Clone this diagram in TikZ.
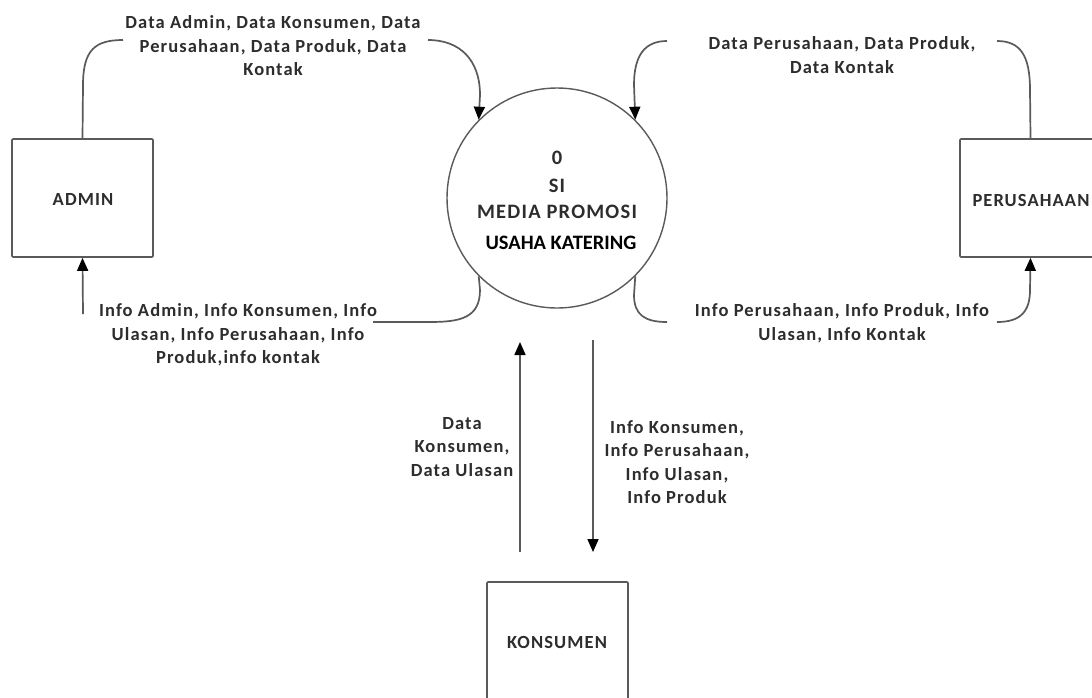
\documentclass[tikz,border=0pt]{standalone}
\usepackage{fontspec}
\setmainfont{Carlito}[LetterSpace=6]
\newfontfamily\plainc{Carlito}
\usetikzlibrary{arrows.meta}
\definecolor{linegray}{RGB}{90,90,90}
\definecolor{textgray}{RGB}{45,45,45}
\begin{document}
\begin{tikzpicture}[x=1pt,y=-1pt,
  every node/.style={font=\fontsize{18.5}{23.5}\selectfont\bfseries, text=textgray},
  ptext/.style={font=\fontsize{20.5}{23}\selectfont\bfseries},
  entity/.style={draw=linegray, line width=1.7pt, minimum width=141pt, minimum height=118pt, inner sep=0pt, rounded corners=1pt},
  proc/.style={draw=linegray, line width=1.4pt, circle, minimum size=220pt, inner sep=0pt},
  flow/.style={draw=linegray, line width=1.7pt},
  arr/.style={flow, -{Triangle[length=13pt,width=11pt,color=black]}},
  lbl/.style={align=center, inner sep=0pt}]
\useasboundingbox (0,0) rectangle (1092,697);
\clip (0,0) rectangle (1092,697);
\fill[white] (0,0) rectangle (1092,697);

% nodes
\node[proc] (p) at (557,198) {};
\node[ptext] (p0) at (557,158) {0};
\node[ptext] (p1) at (557,186) {SI};
\node[ptext] (p2) at (557,212) {MEDIA PROMOSI};
\node[font=\fontsize{20.5}{22}\plainc\bfseries, text=black] (p3) at (561,243) {USAHA KATERING};

\node[entity] (admin) at (82.5,198) {};
\node (adminl) at (83,199) {ADMIN};
\node[entity] (perus) at (1030.5,198) {};
\node (perusl) at (1031,200) {PERUSAHAAN};
\node[entity] (kons) at (557.5,641) {};
\node (konsl) at (557,642) {KONSUMEN};

% labels
\node[lbl] (l1) at (273,46) {Data Admin, Data Konsumen, Data\\Perusahaan, Data Produk, Data\\Kontak};
\node[lbl] (l2) at (842,55) {Data Perusahaan, Data Produk,\\Data Kontak};
\node[lbl] (l3) at (238,335) {Info Admin, Info Konsumen, Info\\Ulasan, Info Perusahaan, Info\\Produk,info kontak};
\node[lbl] (l4) at (842,323.5) {Info Perusahaan, Info Produk, Info\\Ulasan, Info Kontak};
\node[lbl] (l5) at (462,447) {Data\\Konsumen,\\Data Ulasan};
\node[lbl] (l6) at (677,462) {Info Konsumen,\\Info Perusahaan,\\Info Ulasan,\\Info Produk};

% coordinates
\coordinate (a1) at (123,40);
\coordinate (a2) at (428,40);
\coordinate (b1) at (667,41);
\coordinate (b2) at (997,41);
\coordinate (c1) at (373,322);
\coordinate (c2) at (83,314);
\coordinate (d1) at (667,322);
\coordinate (d2) at (997,322);
\coordinate (e1) at (520,552);
\coordinate (e2) at (520,342);
\coordinate (f1) at (593,340);
\coordinate (f2) at (593,552);

% flows
\draw[flow] (admin.north) -- (83,85) .. controls (83,50) and (95,40) .. (a1);
\draw[arr] (a2) .. controls (460,40) and (480,60) .. (480,95) -- (p.135);
\draw[arr] (b1) .. controls (645,41) and (634,55) .. (634,85) -- (p.45);
\draw[flow] (b2) .. controls (1020,41) and (1030,55) .. (1030,90) -- (perus.north);
\draw[flow] (p.225) -- (480,290) .. controls (480,318) and (460,322) .. (430,322) -- (c1);
\draw[arr] (c2) -- (admin.south);
\draw[flow] (p.315) -- (634,295) .. controls (634,315) and (645,322) .. (d1);
\draw[arr] (d2) .. controls (1020,322) and (1030,312) .. (1030,290) -- (perus.south);
\draw[arr] (e1) -- (e2);
\draw[arr] (f1) -- (f2);
\end{tikzpicture}
\end{document}
